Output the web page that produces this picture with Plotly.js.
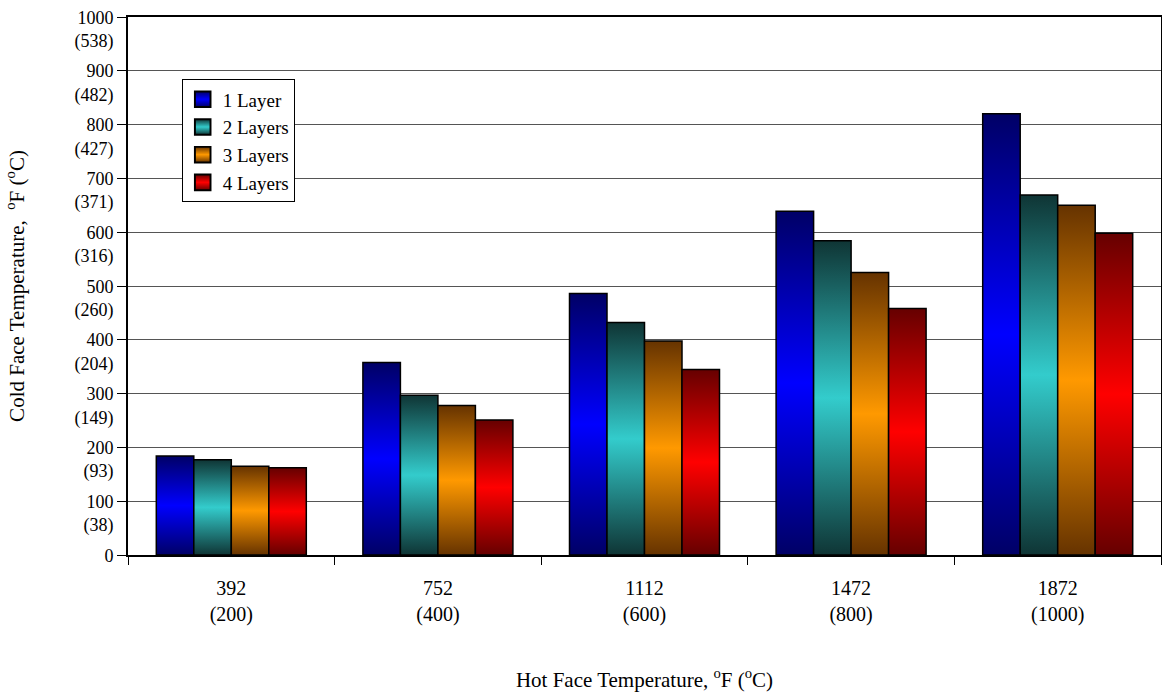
<!DOCTYPE html>
<html>
<head>
<meta charset="utf-8">
<script src="https://cdn.plot.ly/plotly-3.0.1.min.js"></script>
<style>
  html, body { margin: 0; padding: 0; background: #fff; }
  #chart { width: 1162px; height: 694px; }
</style>
</head>
<body>
<div id="chart"></div>
<script>
// ---- data ----
const categoriesF = ["392", "752", "1112", "1472", "1872"];
const categoriesC = ["(200)", "(400)", "(600)", "(800)", "(1000)"];
const seriesNames = ["1 Layer", "2 Layers", "3 Layers", "4 Layers"];
const layer1 = [184, 358, 486, 639, 820];
const layer2 = [177, 297, 432, 584, 669];
const layer3 = [165, 278, 398, 525, 650];
const layer4 = [162, 251, 345, 458, 598];
const yTickValsF = [0, 100, 200, 300, 400, 500, 600, 700, 800, 900, 1000];
const yTickValsC = ["", "(38)", "(93)", "(149)", "(204)", "(260)", "(316)", "(371)", "(427)", "(482)", "(538)"];

// ---- styles ----
const darkColors = ["#000066", "#0f3535", "#663300", "#660000"];
const brightColors = ["#0000ff", "#33cccc", "#ff9900", "#ff0000"];
const FONT = "Liberation Serif, Times New Roman, serif";

const values = [layer1, layer2, layer3, layer4];
const traces = values.map((v, i) => ({
  type: "bar",
  name: seriesNames[i],
  x: categoriesF,
  y: v,
  marker: { color: brightColors[i], line: { color: "#000", width: 1.5 } },
  hoverinfo: "x+y+name"
}));

const xTickText = categoriesF.map((f, i) => f + "<br>" + categoriesC[i]);
const yTickText = yTickValsF.map((v, i) => v + "<br>" + (yTickValsC[i] || " "));

const layout = {
  width: 1162, height: 694,
  margin: { l: 128, r: 1, t: 17, b: 139 },
  paper_bgcolor: "#fff", plot_bgcolor: "#fff",
  font: { family: FONT, size: 20, color: "#000" },
  barmode: "group",
  bargap: 0.274,
  bargroupgap: 0,
  showlegend: true,
  legend: {
    x: 0.052, y: 0.884, xanchor: "left", yanchor: "top",
    bgcolor: "#fff", bordercolor: "#000", borderwidth: 1,
    font: { family: FONT, size: 19, color: "#000" },
    tracegroupgap: 0, itemwidth: 30
  },
  xaxis: {
    type: "category",
    tickson: "boundaries",
    tickmode: "array",
    tickvals: categoriesF,
    ticktext: xTickText,
    ticks: "outside", ticklen: 8, tickcolor: "#000", tickwidth: 1,
    showline: true, linecolor: "#000", linewidth: 2, mirror: true,
    showgrid: false, zeroline: false,
    tickfont: { family: FONT, size: 20, color: "#000" },
    ticklabelstandoff: 14,
    title: {
      text: "Hot Face Temperature, <sup>o</sup>F (<sup>o</sup>C)",
      font: { family: FONT, size: 21, color: "#000" },
      standoff: 47
    },
    fixedrange: true
  },
  yaxis: {
    range: [0, 1000],
    tickmode: "array",
    tickvals: yTickValsF,
    ticktext: yTickText,
    ticklabelshift: 12,
    ticks: "outside", ticklen: 9, tickcolor: "#000", tickwidth: 1,
    showline: true, linecolor: "#000", linewidth: 2, mirror: true,
    showgrid: true, gridcolor: "#555", gridwidth: 1,
    zeroline: false,
    tickfont: { family: FONT, size: 18, color: "#000" },
    title: {
      text: "Cold Face Temperature,  <sup>o</sup>F (<sup>o</sup>C)",
      font: { family: FONT, size: 21, color: "#000" },
      standoff: 44
    },
    fixedrange: true
  }
};

function applyGradients(gd) {
  const svg = gd.querySelector("svg.main-svg");
  if (!svg) return;
  const NS = "http://www.w3.org/2000/svg";
  let defs = svg.querySelector("defs#barGradDefs");
  if (!defs) {
    defs = document.createElementNS(NS, "defs");
    defs.id = "barGradDefs";
    svg.insertBefore(defs, svg.firstChild);
    darkColors.forEach((dc, i) => {
      const g = document.createElementNS(NS, "linearGradient");
      g.setAttribute("id", "barGrad" + i);
      g.setAttribute("x1", "0"); g.setAttribute("y1", "0");
      g.setAttribute("x2", "0"); g.setAttribute("y2", "1");
      [[0, dc], [0.5, brightColors[i]], [1, dc]].forEach(([o, c]) => {
        const s = document.createElementNS(NS, "stop");
        s.setAttribute("offset", o);
        s.setAttribute("stop-color", c);
        g.appendChild(s);
      });
      defs.appendChild(g);
    });
  }
  gd.querySelectorAll(".barlayer .trace.bars").forEach((tr, i) => {
    tr.querySelectorAll("path").forEach(p => { p.style.fill = "url(#barGrad" + i + ")"; });
  });
  gd.querySelectorAll(".legend .traces").forEach((tr, i) => {
    tr.querySelectorAll(".legendpoints path").forEach(p => {
      p.style.fill = "url(#barGrad" + i + ")";
      if (!p.dataset.scaled) {
        const t = p.getAttribute("transform") || "";
        p.setAttribute("transform", (t + " scale(1.3)").trim());
        p.dataset.scaled = "1";
      }
    });
  });
}

const gd = document.getElementById("chart");
Plotly.newPlot(gd, traces, layout, { displayModeBar: false, responsive: false }).then(() => {
  applyGradients(gd);
  gd.on("plotly_afterplot", () => applyGradients(gd));
});
</script>
</body>
</html>
